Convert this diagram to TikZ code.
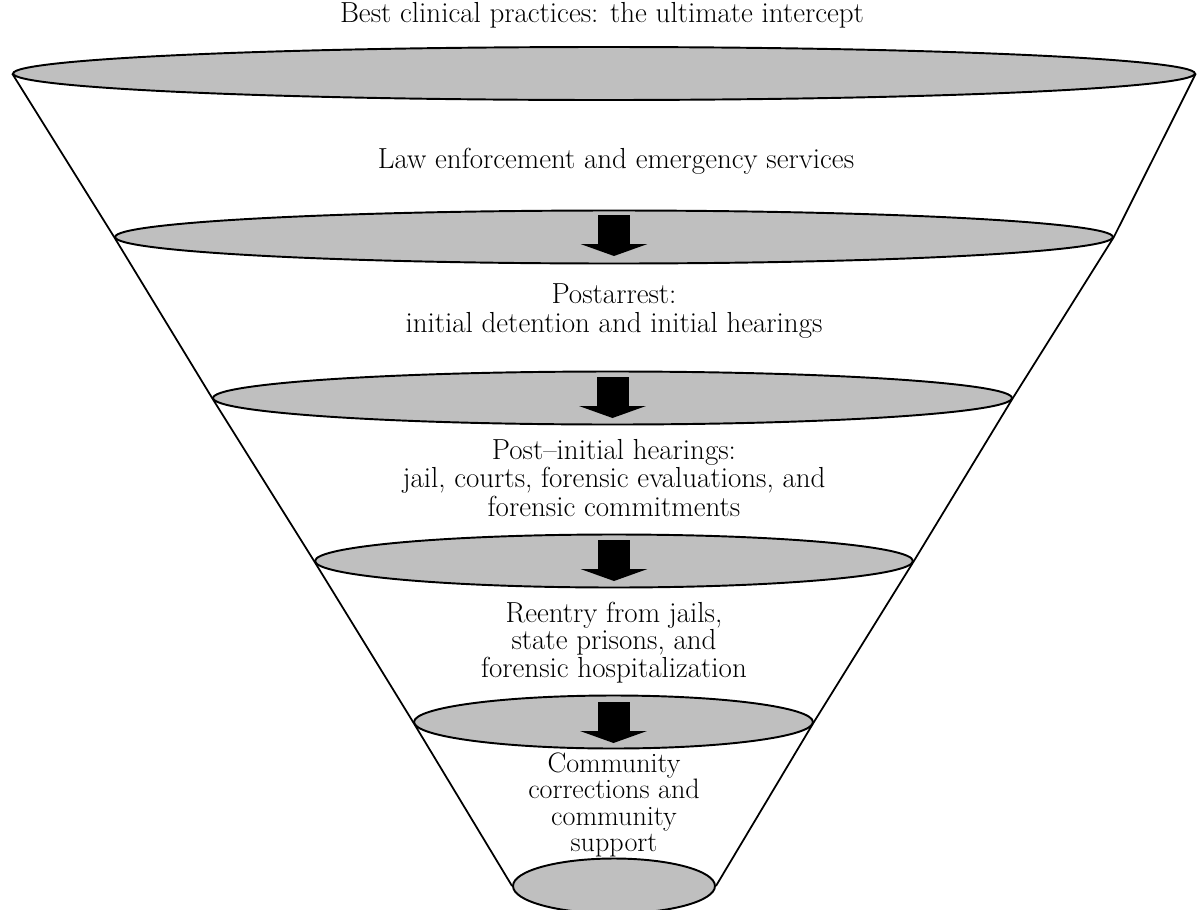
\documentclass[tikz,border=0pt]{standalone}
\usepackage{tikz}
\usetikzlibrary{shapes.geometric, arrows.meta}

\begin{document}
\begin{tikzpicture}[x=0.02cm, y=-0.02cm]
\tikzstyle{disc}=[ellipse, draw=black, fill=black!25, line width=1.1pt, inner sep=0pt, minimum height=1.06cm]
\tikzstyle{connect}=[line width=0.64cm, -{Triangle[width=1.34cm, length=0.24cm, line width=0pt]}]
\tikzstyle{side}=[line width=1pt]
\tikzstyle{lbl}=[align=center, inner sep=0pt, font=\fontsize{16.5}{16}\selectfont]
\useasboundingbox (0,0) rectangle (1198,910);
% 1. Levels
%%%%%%%%%%
\node[disc, minimum width=23.64cm] (E1) at (604,73.5) {};
\node[disc, minimum width=19.96cm] (E2) at (614,237) {};
\node[disc, minimum width=15.98cm] (E3) at (612.5,398) {};
\node[disc, minimum width=11.96cm] (E4) at (614,561) {};
\node[disc, minimum width=7.98cm] (E5) at (613.5,722) {};
\node[disc, minimum width=4.04cm, minimum height=1.1cm] (E6) at (614,886) {};

% 2. Labels
%%%%%%%%%%
\node[lbl, anchor=base] (best) at (602,22) {Best clinical practices: the ultimate intercept};
\node[lbl, anchor=base] (law) at (616,168) {Law enforcement and emergency services};
\node[lbl, font=\fontsize{16.5}{17}\selectfont] (arrest) at (614,311) {Postarrest:\\initial detention and initial hearings};
\node[lbl] (hear) at (614,478) {Post--initial hearings:\\jail, courts, forensic evaluations, and\\forensic commitments};
\node[lbl, font=\fontsize{16.5}{15.6}\selectfont] (reentry) at (614,642.5) {Reentry from jails,\\state prisons, and\\forensic hospitalization};
\node[lbl, font=\fontsize{16}{15}\selectfont] (comm) at (614,805) {Community\\corrections and\\community\\support};

% 3. Funnel and arrows
%%%%%%%%%%%%%%%%%%%%%
\draw[side] (E1.west) -- (E2.west) -- (E3.west) -- (E4.west) -- (E5.west) -- (E6.west);
\draw[side] (E1.east) -- (E2.east) -- (E3.east) -- (E4.east) -- (E5.east) -- (E6.east);
\path ([yshift=0.44cm]E2.center) edge [connect] ([yshift=-0.38cm]E2.center)
      ([yshift=0.42cm]E3.center) edge [connect] ([yshift=-0.40cm]E3.center)
      ([yshift=0.42cm]E4.center) edge [connect] ([yshift=-0.40cm]E4.center)
      ([yshift=0.40cm]E5.center) edge [connect] ([yshift=-0.42cm]E5.center);

\end{tikzpicture}
\end{document}
